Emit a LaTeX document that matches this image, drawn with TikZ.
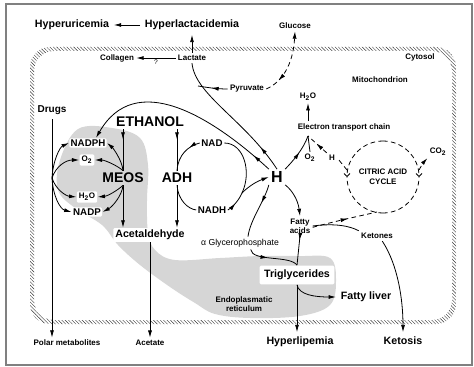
\documentclass[tikz,border=0pt]{standalone}
\usepackage{fontspec}
\setmainfont{Liberation Sans}
\usetikzlibrary{arrows.meta,decorations.markings,patterns.meta}

\begin{document}
\begin{tikzpicture}[
    x=0.75pt, y=-0.75pt,
    line width=0.6pt,
    >={Latex[length=5.5pt,width=3pt]},
    bigb/.style={font=\fontsize{8}{9.5}\selectfont\bfseries},
    ethb/.style={font=\fontsize{10.5}{12}\selectfont\bfseries, inner sep=1.5pt},
    cofac/.style={font=\fontsize{7.3}{8}\selectfont\bfseries, inner sep=1pt},
    lbl/.style={font=\fontsize{6}{7}\selectfont\bfseries, inner sep=1.5pt},
    onshade/.style={fill=white, rounded corners=1pt},
    dashline/.style={dash pattern=on 3.5pt off 2.5pt},
    barb/.style={-{Straight Barb[length=2.2pt,width=4.5pt]}},
    arrowat/.style={postaction={decorate}, decoration={markings, mark=at position #1 with {\arrow{>}}}},
    arrowback/.style={postaction={decorate}, decoration={markings, mark=at position #1 with {\arrowreversed{>}}}}
]
\useasboundingbox (0,0) rectangle (474,367);
\draw[gray, line width=0.8pt] (6,4) rectangle (472,365);

% endoplasmatic reticulum
\fill[gray!32] plot[smooth cycle, tension=0.6] coordinates {
    (78,129) (112,128) (140,138) (148,165) (147,200) (148,232) (155,250)
    (175,260) (220,258) (260,256) (300,256) (330,258) (336,280) (330,305)
    (300,316) (250,318) (215,314) (195,303) (170,287) (140,265) (118,245)
    (102,225) (75,208) (58,190) (60,160)};

% cytosol membrane
\fill[pattern={Lines[angle=-45,distance=1.8pt,line width=0.3pt]}, pattern color=black!80,
    even odd rule, rounded corners=15pt] (30,47) rectangle (456,324) (34,51) rectangle (452,320);

\node[bigb] (hyperu) at (72,25) {Hyperuricemia};
\node[bigb] (hyperl) at (192,25) {Hyperlactacidemia};
\node[lbl] (lactate) at (192,58) {Lactate};
\node[lbl] (collagen) at (117,58) {Collagen};
\node[lbl] (glucose) at (295,26) {Glucose};
\node[lbl] (pyruvate) at (247,89) {Pyruvate};
\node[lbl] (cytosol) at (420,57) {Cytosol};
\node[lbl] (mito) at (380,80) {Mitochondrion};
\node[lbl] (watB) at (308,97) {H\textsubscript{2}O};
\node[lbl] (etc) at (344,127) {Electron transport chain};
\node[lbl] (oxy) at (310,158) {O\textsubscript{2}};
\node[lbl] (hcyc) at (332,158) {H};
\node[lbl, align=center, font=\fontsize{6}{7.5}\selectfont\bfseries] (cyc) at (383,177) {CITRIC ACID\\CYCLE};
\node[lbl] (co2) at (438,152) {CO\textsubscript{2}};
\node[bigb, font=\fontsize{7.5}{9}\selectfont\bfseries] (drugs) at (52,110) {Drugs};
\node[ethb] (ethanol) at (150,122) {ETHANOL};
\node[cofac, onshade] (nadph) at (88,143) {NADPH};
\node[lbl, onshade] (otwo) at (87,160) {O\textsubscript{2}};
\node[ethb] (meos) at (123,178) {MEOS};
\node[lbl, onshade] (h2o) at (87,197) {H\textsubscript{2}O};
\node[cofac, onshade] (nadp) at (87,212) {NADP};
\node[ethb] (adh) at (177,178) {ADH};
\node[cofac] (nad) at (212,143) {NAD};
\node[cofac] (nadh) at (212,210) {NADH};
\node[font=\fontsize{12}{14}\selectfont\bfseries, inner sep=1.5pt] (hh) at (277,177) {H};
\node[bigb, onshade, inner sep=1.5pt] (acet) at (150,235) {Acetaldehyde};
\node[font=\fontsize{6.5}{7.5}\selectfont, inner sep=1.5pt] (agp) at (240,243) {α Glycerophosphate};
\node[lbl, align=center] (fa) at (300,226) {Fatty\\acids};
\node[lbl] (ket) at (377,236) {Ketones};
\node[bigb, onshade] (trig) at (297,275) {Triglycerides};
\node[bigb] (fl) at (366,297) {Fatty liver};
\node[lbl, align=center, font=\fontsize{6}{6.5}\selectfont\bfseries] (er) at (244,304) {Endoplasmatic\\reticulum};
\node[lbl] (polar) at (67,343) {Polar metabolites};
\node[lbl] (acetate) at (150,343) {Acetate};
\node[bigb] (hyperlip) at (300,342) {Hyperlipemia};
\node[bigb] (ketosis) at (403,341) {Ketosis};

\coordinate (pj) at (198,86);
\coordinate (etcj) at (308,136);
\coordinate (nadhj) at (242,193);
\coordinate (cycN) at (383,141);
\coordinate (cycW) at (347,170);
\coordinate (cycE) at (419,170);
\coordinate (cycS) at (377,212);
\coordinate (dl) at (52,178);

% cytosol
\draw[->] (hyperl.west) -- (hyperu.east);
\draw[->] (lactate.north) -- (hyperl.south);
\draw[->] (lactate.west) -- node[below, font=\fontsize{5}{6}\selectfont, inner sep=1pt] (qmark) {?} (collagen.east);
\draw[dashline, ->, arrowback=0.22] (pyruvate.east) .. controls (282,82) and (293,65) .. (glucose.south);
\draw[arrowat=0.55] (pyruvate.west) .. controls (215,89) and (205,87) .. (pj);
\draw[arrowat=0.2] (hh.north) .. controls (245,120) and (195,95) .. (lactate.south);
\draw[->, arrowat=0.1] (hh.north west) .. controls (210,115) and (135,70) .. ([xshift=6pt]nadph.north);

% ethanol
\draw[arrowat=0.25] (ethanol.south -| meos) -- (meos.north);
\draw[->] (meos.south) -- (acet.north -| meos);
\draw[arrowat=0.25] (ethanol.south -| adh) -- (adh.north);
\draw[->] (adh.south) -- (acet.north -| adh);
\draw[->] (acet.south) -- (acetate.north);
\draw[->] (drugs.south) -- (polar.north -| drugs);

% MEOS
\draw[->] (dl) .. controls (53,160) and (60,147) .. (nadph.west);
\draw[->] (dl) .. controls (56,166) and (66,160) .. (otwo.west);
\draw[->] (dl) .. controls (56,190) and (66,196) .. (h2o.west);
\draw[->] (dl) .. controls (53,196) and (60,209) .. (nadp.west);
\draw[->] (meos.north) .. controls (122,160) and (113,148) .. (nadph.east);
\draw[->] (meos.north) .. controls (118,166) and (105,160) .. (otwo.east);
\draw[->] (meos.south) .. controls (118,190) and (108,196) .. (h2o.east);
\draw[->] (meos.south) .. controls (122,196) and (112,207) .. (nadp.east);

% ADH
\draw[arrowat=0.3] (nad.west) .. controls (188,146) and (178,155) .. (adh.north);
\draw (adh.south) .. controls (178,200) and (188,209) .. (nadh.west);
\draw[arrowat=0.45] (nadh.east) .. controls (233,207) and (239,200) .. (nadhj);
\draw (nadhj) .. controls (252,172) and (244,143) .. (nad.east);
\draw[->] (nadhj) .. controls (250,185) and (258,181) .. (hh.west);

% mitochondrion
\draw[arrowat=0.55] (hh.north east) .. controls (292,162) and (303,150) .. (etcj);
\draw[->] (etc.north -| watB) -- (watB.south);
\draw (etcj) -- (oxy.north);
\draw[dashline] (cycW) -- (hcyc.east);
\draw[dashline, arrowat=0.55] (hcyc.north west) -- (etcj);
\draw[dashline, barb] (cycN) arc[start angle=90, end angle=180, radius=27pt];
\draw[dashline, barb] (cycN) arc[start angle=90, end angle=0, radius=27pt];
\draw[dashline] (cycN) ++(0,72) arc[start angle=270, end angle=180, radius=27pt];
\draw[dashline] (cycN) ++(0,72) arc[start angle=-90, end angle=0, radius=27pt];
\draw[dashline, ->] (cycE) .. controls (423,163) .. (co2.south west);
\draw[->] (hh.south east) .. controls (292,190) and (298,200) .. (fa.north);
\draw[arrowat=0.35] (hh.south west) .. controls (265,200) and (250,220) .. ([xshift=6pt]agp.north);
\draw[arrowat=0.4] ([xshift=8pt]agp.south) .. controls (252,262) and (290,255) .. (trig.north);
\draw[arrowat=0.15] (fa.south) -- (trig.north);
\draw (fa.east) .. controls (335,223) and (350,226) .. (ket.north west);
\draw[dashline, arrowat=0.55] ([yshift=-1pt]fa.east) .. controls (340,220) and (360,216) .. (cycS);
\draw[->] ([xshift=4pt]ket.south) .. controls (398,265) and (403,300) .. (ketosis.north);
\draw[->] (trig.south) .. controls (299,295) and (315,297) .. (fl.west);
\draw[->] (trig.south) -- (hyperlip.north -| trig);
\end{tikzpicture}
\end{document}
